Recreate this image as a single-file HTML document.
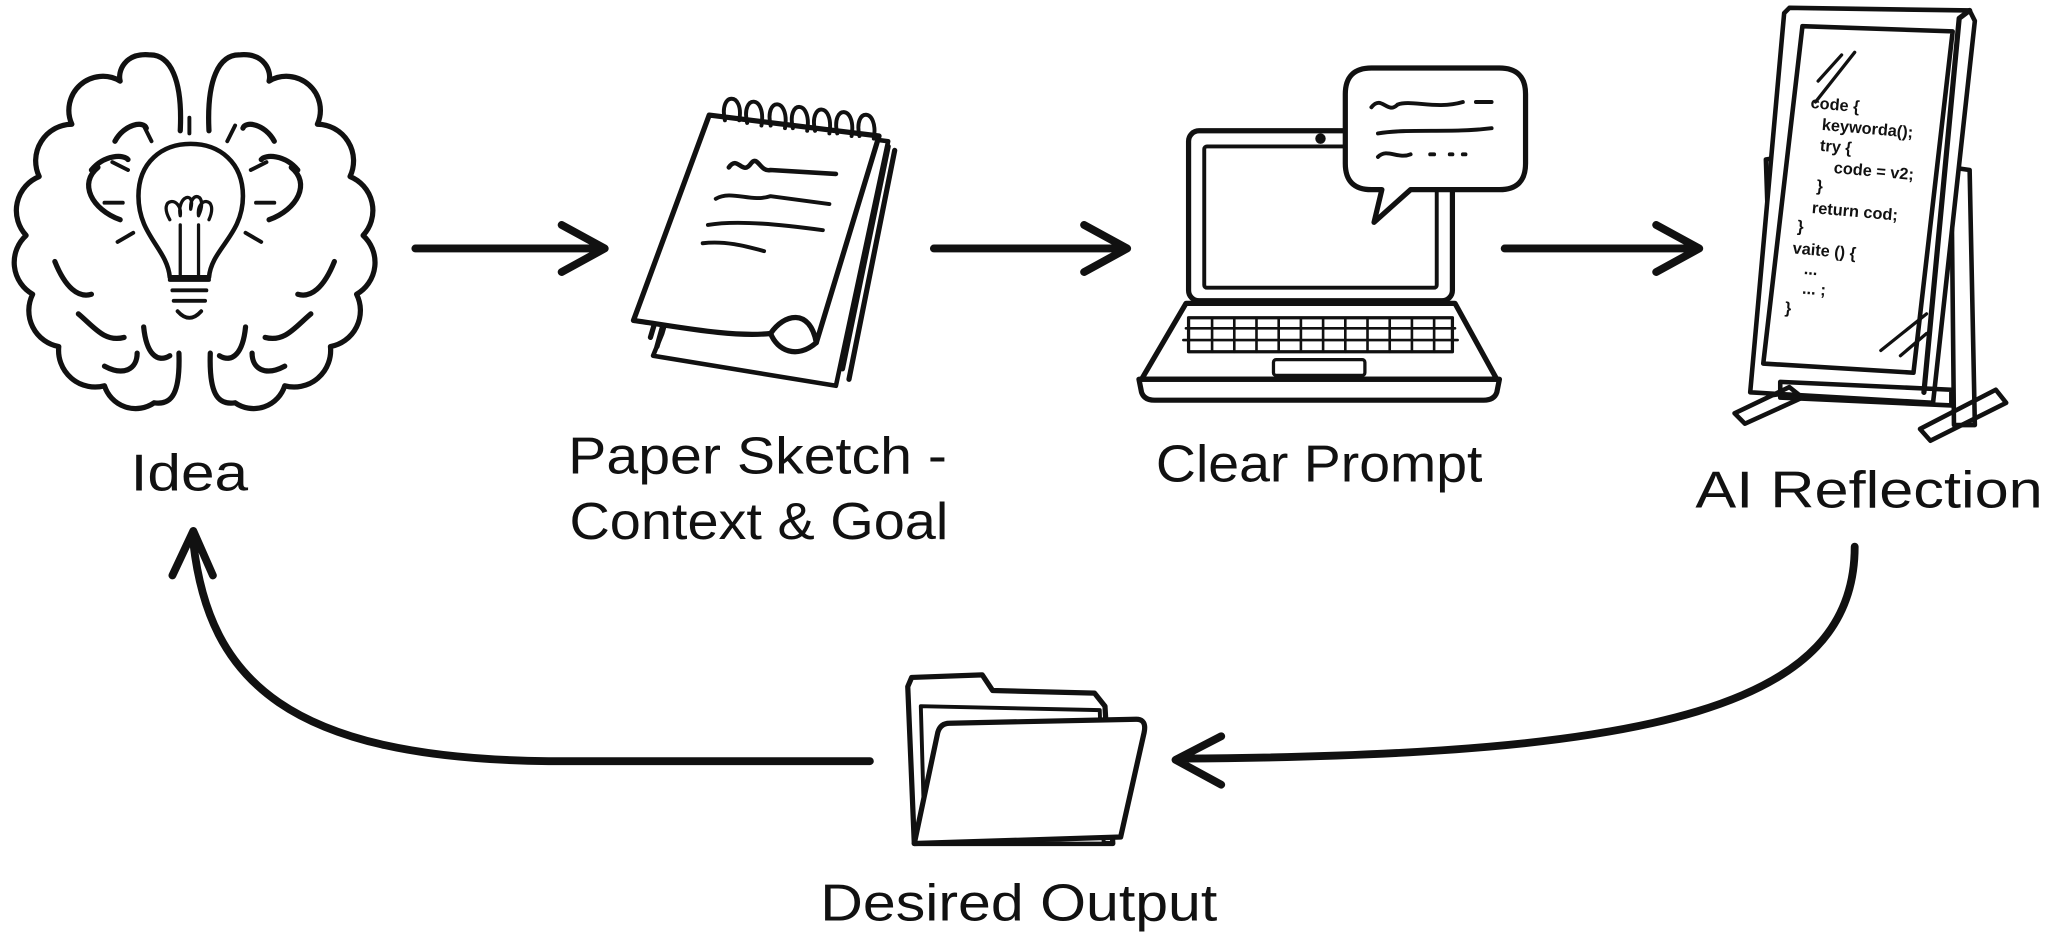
<!DOCTYPE html>
<html><head><meta charset="utf-8"><style>
html,body{margin:0;padding:0;background:#fff;}
svg{display:block;}
text{font-family:"Liberation Sans",sans-serif;fill:#111;}
</style></head><body>
<svg width="2048" height="939" viewBox="0 0 1568 718" preserveAspectRatio="none" xmlns="http://www.w3.org/2000/svg">
<g fill="none" stroke="#111" stroke-width="4" stroke-linecap="round" stroke-linejoin="round">
<!-- Brain left -->
<path d="M138,100 C140,60 130,42 115,42 C95,40 90,55 92,62 A26,26 0 0 0 55,95 A28,28 0 0 0 30,135 A28,28 0 0 0 20,180 A28,28 0 0 0 25,225 A28,28 0 0 0 45,265 A28,28 0 0 0 80,295 A25,25 0 0 0 118,308 C132,310 138,300 137,270"/>
<path d="M160,100 C158,60 168,42 183,42 C203,40 208,55 206,62 A26,26 0 0 1 243,95 A28,28 0 0 1 268,135 A28,28 0 0 1 278,180 A28,28 0 0 1 273,225 A28,28 0 0 1 253,265 A28,28 0 0 1 218,295 A25,25 0 0 1 180,308 C166,310 160,300 161,270"/>
<!-- folds -->
<path d="M88,108 C95,95 110,92 112,98"/><path d="M70,130 C80,118 95,118 98,122"/><path d="M92,168 C70,160 60,140 75,128"/>
<path d="M42,200 C50,220 60,228 70,225"/><path d="M60,240 C72,250 80,262 95,258"/><path d="M110,250 C112,270 120,278 130,272"/><path d="M80,280 C95,288 105,282 105,270"/>
<path d="M210,108 C203,95 188,92 186,98"/><path d="M228,130 C218,118 203,118 200,122"/><path d="M206,168 C228,160 238,140 223,128"/>
<path d="M256,200 C248,220 238,228 228,225"/><path d="M238,240 C226,250 218,262 203,258"/><path d="M188,250 C186,270 178,278 168,272"/><path d="M218,280 C203,288 193,282 193,270"/>
<!-- bulb -->
<path d="M130,212 C128,190 106,180 106,150 C106,124 124,110 146,110 C168,110 186,124 186,150 C186,180 162,190 160,212 Z" stroke-width="3.5"/>
<path d="M138,210 L138,172 M152,210 L152,172 M130,168 C120,150 140,150 138,165 C135,150 150,145 146,160 C145,145 160,148 152,165 C150,150 168,150 160,168" stroke-width="2.5"/>
<path d="M130,214 H160 M132,222 H158 M133,230 H157 M136,238 Q145,248 154,238" stroke-width="3"/>
<path d="M145,90 V102 M110,96 L116,108 M180,96 L174,108 M86,124 L98,130 M204,124 L192,130 M80,155 H94 M196,155 H210 M90,185 L102,178 M200,185 L188,178" stroke-width="3"/>
<!-- arrows -->
<path d="M318,190 H462 M430,172 L463,190 L430,208" stroke-width="6"/>
<path d="M715,190 H862 M830,172 L863,190 L830,208" stroke-width="6"/>
<path d="M1152,190 H1300 M1268,172 L1301,190 L1268,208" stroke-width="6"/>
<path d="M1420,418 C1420,540 1270,578 905,580 M935,563 L900,581 L935,600" stroke-width="6"/>
<path d="M666,582 L420,582 C220,580 160,520 148,415 M132,440 L148,406 L163,440" stroke-width="6"/>
<!-- notepad -->
<path d="M507,255 L555,92 L680,108 L640,295 L500,272 Z" stroke-width="3.5"/>
<path d="M503,265 L550,96 M498,258 L545,100"/>
<path d="M645,282 L680,112 M650,290 L685,115" />
<path d="M543,88 L673,104 L625,262 C610,275 595,268 590,255 C560,258 520,250 485,245 Z" fill="#fff" stroke-width="4"/>
<path d="M590,255 C600,240 620,235 625,262"/>
<path d="M555,92 C550,70 570,70 566,92 M572,94 C567,72 587,72 583,96 M590,96 C585,74 605,74 601,98 M607,98 C602,76 622,76 618,100 M624,100 C619,78 639,78 635,102 M641,102 C636,80 656,80 652,104 M658,104 C653,82 673,82 669,106" stroke-width="3"/>
<path d="M558,128 C565,118 568,135 575,125 C580,118 582,132 590,130 L640,133" stroke-width="3.5"/>
<path d="M548,152 C560,145 575,155 590,150 L635,156" stroke-width="3"/>
<path d="M542,172 C565,168 600,172 630,176" stroke-width="3"/>
<path d="M538,186 C555,184 570,188 585,192" stroke-width="3"/>
<!-- laptop -->
<rect x="910" y="100" width="202" height="130" rx="8" stroke-width="4"/>
<rect x="922" y="112" width="178" height="108" rx="2" stroke-width="3"/>
<circle cx="1011" cy="106" r="2" fill="#111"/>
<path d="M908,232 L1114,232 L1146,290 L874,290 Z" stroke-width="4"/>
<path d="M872,290 L1148,290 L1146,300 Q1144,306 1136,306 L884,306 Q876,306 874,300 Z" stroke-width="4"/>
<rect x="910" y="243" width="202" height="26" stroke-width="2.5"/>
<path d="M908,251 H1114 M906,260 H1116 M928,243 V269 M945,243 V269 M962,243 V269 M979,243 V269 M996,243 V269 M1013,243 V269 M1030,243 V269 M1047,243 V269 M1064,243 V269 M1081,243 V269 M1098,243 V269" stroke-width="2"/>
<rect x="975" y="275" width="70" height="12" rx="2" stroke-width="2.5"/>
<path d="M1050,52 L1148,52 Q1168,52 1168,72 L1168,125 Q1168,145 1148,145 L1080,145 L1052,170 L1058,145 L1050,145 Q1030,145 1030,125 L1030,72 Q1030,52 1050,52 Z" fill="#fff" stroke-width="4"/>
<path d="M1050,82 C1058,72 1062,88 1070,80 C1080,76 1100,84 1120,78 M1130,78 H1142 M1055,102 C1080,98 1110,102 1142,98 M1055,120 C1062,113 1070,122 1080,118 M1095,118 H1098 M1110,118 H1112 M1120,118 H1122" stroke-width="3"/>
<!-- mirror stand -->
<path d="M1352,122 L1364,120 L1372,300 L1358,302 Z" stroke-width="3.5"/>
<path d="M1494,128 L1508,130 L1512,325 L1496,325 Z" stroke-width="3.5"/>
<path d="M1370,6 L1508,8 L1512,16 L1480,308 L1340,300 L1366,10 Z" fill="#fff" stroke-width="3.5"/>
<path d="M1508,8 L1500,14 L1473,300"/>
<path d="M1380,20 L1495,24 L1465,285 L1350,278 Z" stroke-width="3.5"/>
<path d="M1392,62 L1410,42 M1390,78 L1420,40 M1440,268 L1475,240 M1455,272 L1475,255" stroke-width="2.5"/>
<path d="M1363,292 L1494,298 L1494,310 L1363,304 Z" stroke-width="3.5"/>
<path d="M1328,316 L1370,296 L1380,304 L1336,324 Z" stroke-width="3.5"/>
<path d="M1470,328 L1528,298 L1536,308 L1478,337 Z" stroke-width="3.5"/>
</g>
<g transform="translate(1380,82) rotate(5)" font-size="12.5" font-weight="bold" fill="#111">
<text x="6" y="0">code {</text>
<text x="16" y="16">keyworda();</text>
<text x="16" y="32">try {</text>
<text x="28" y="48">code = v2;</text>
<text x="16" y="63">}</text>
<text x="14" y="80">return cod;</text>
<text x="4" y="95">}</text>
<text x="2" y="112">vaite () {</text>
<text x="12" y="127">...</text>
<text x="12" y="142">... ;</text>
<text x="0" y="158">}</text>
</g>
<!-- folder -->
<g fill="#fff" stroke="#111" stroke-width="4" stroke-linejoin="round">
<path d="M695,525 L698,518 L752,516 L760,528 L838,530 L846,540 L852,645 L700,645 Z"/>
<path d="M705,540 L842,543 L845,645 L708,645 Z" stroke-width="3"/>
<path d="M727,553 L870,550 Q878,550 876,560 L858,640 L700,645 L718,560 Q720,553 727,553 Z"/>
</g>
<!-- labels -->
<text x="100" y="375" font-size="40" textLength="90" lengthAdjust="spacingAndGlyphs">Idea</text>
<text x="435" y="362" font-size="40" textLength="290" lengthAdjust="spacingAndGlyphs">Paper Sketch -</text>
<text x="436" y="412" font-size="40" textLength="290" lengthAdjust="spacingAndGlyphs">Context &amp; Goal</text>
<text x="885" y="368" font-size="40" textLength="250" lengthAdjust="spacingAndGlyphs">Clear Prompt</text>
<text x="1298" y="388" font-size="40" textLength="266" lengthAdjust="spacingAndGlyphs">AI Reflection</text>
<text x="628" y="704" font-size="40" textLength="304" lengthAdjust="spacingAndGlyphs">Desired Output</text>
</svg>
</body></html>
